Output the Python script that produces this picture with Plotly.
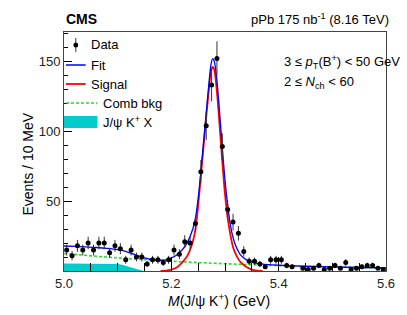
import numpy as np
import plotly.graph_objects as go

# ---- data (events per 10 MeV bin, 5.00-5.60 GeV) ----
bin_lo = 5.0
bin_width = 0.01
counts = [15, 11, 18, 15, 20, 15, 20, 20, 13, 18,
          16, 8, 15, 10, 10, 5, 8, 8, 6, 8,
          15, 12, 21, 20, 34, 71, 104, 133, 152, 89,
          44, 35, 27, 14, 7, 7, 5, 3, 8, 8,
          8, 4, 3, None, 2, 1, 2, 4, 1, 2,
          4, 2, 6, 1, 2, 3, 4, 4, 2, 1]

# ---- fit curves ----
fit_mass = [5.00, 5.02, 5.04, 5.06, 5.08, 5.10, 5.11, 5.12, 5.13, 5.14,
            5.15, 5.16, 5.17, 5.18, 5.19, 5.20, 5.21, 5.22, 5.23, 5.24,
            5.245, 5.25, 5.255, 5.26, 5.265, 5.27, 5.274, 5.277, 5.28, 5.285,
            5.29, 5.295, 5.30, 5.305, 5.31, 5.315, 5.32, 5.325, 5.33, 5.34,
            5.35, 5.36, 5.38, 5.40, 5.45, 5.50, 5.55, 5.60]
fit_vals = [17.9, 17.6, 17.2, 16.8, 16.2, 15.3, 14.5, 13.4, 12.0, 10.6,
            9.4, 8.4, 7.8, 7.7, 8.0, 9.4, 11.5, 15.0, 20.5, 30.0,
            38.0, 52.0, 71.0, 92.0, 113.0, 134.0, 148.0, 152.0, 150.0, 136.0,
            113.0, 88.0, 65.0, 47.0, 33.0, 24.0, 18.0, 14.0, 11.0, 8.0,
            6.5, 5.5, 4.6, 4.1, 3.4, 2.9, 2.5, 2.2]

sig_mass = [5.18, 5.19, 5.20, 5.21, 5.22, 5.23, 5.24, 5.245, 5.25, 5.255,
            5.26, 5.265, 5.27, 5.274, 5.277, 5.28, 5.285, 5.29, 5.295, 5.30,
            5.305, 5.31, 5.315, 5.32, 5.325, 5.33, 5.34, 5.35, 5.36, 5.37]
sig_vals = [0.0, 0.3, 1.0, 2.5, 6.0, 11.0, 21.0, 30.0, 47.0, 68.0,
            89.0, 110.0, 130.0, 143.0, 146.0, 144.0, 128.0, 104.0, 78.0, 55.0,
            38.0, 26.0, 17.0, 12.0, 8.5, 6.0, 2.8, 1.0, 0.3, 0.0]

comb_mass = [5.0, 5.1, 5.2, 5.3, 5.4, 5.5, 5.6]
comb_vals = [12.5, 9.4, 7.0, 5.2, 3.9, 2.9, 2.1]

jpsikx_mass = [5.00, 5.05, 5.09, 5.10, 5.11, 5.12, 5.13, 5.14, 5.148]
jpsikx_vals = [5.3, 5.3, 5.3, 5.0, 4.3, 3.3, 2.2, 0.9, 0.0]

# ---- styling ----
FONT = "Liberation Sans, Arial, Helvetica, sans-serif"
TEAL = "#00cccc"
BLUE = "#0000ff"
RED = "#ff0000"
GREEN = "#22dd22"

centers = bin_lo + bin_width * (np.arange(len(counts)) + 0.5)
cnt = np.array([np.nan if c is None else c for c in counts], dtype=float)
err = np.sqrt(cnt)

fig = go.Figure()
fig.add_trace(go.Scatter(x=jpsikx_mass, y=jpsikx_vals, mode="lines",
                         line=dict(width=0, color=TEAL), fill="tozeroy",
                         fillcolor=TEAL, showlegend=False, hoverinfo="skip"))
fig.add_trace(go.Scatter(x=comb_mass, y=comb_vals, mode="lines",
                         line=dict(color=GREEN, width=1.6, dash="3px,2px", shape="spline"),
                         showlegend=False))
fig.add_trace(go.Scatter(x=sig_mass, y=sig_vals, mode="lines",
                         line=dict(color=RED, width=1.8, shape="spline", smoothing=0.8),
                         showlegend=False))
fig.add_trace(go.Scatter(x=fit_mass, y=fit_vals, mode="lines",
                         line=dict(color=BLUE, width=1.3, shape="spline", smoothing=0.8),
                         showlegend=False))
fig.add_trace(go.Scatter(x=centers, y=cnt, mode="markers",
                         marker=dict(color="black", size=5, symbol="circle"),
                         error_y=dict(type="data", array=err, visible=True,
                                      color="#333333", thickness=1, width=0),
                         showlegend=False))

fig.update_layout(
    width=407, height=315,
    margin=dict(l=64, r=16, t=32, b=44),
    paper_bgcolor="white", plot_bgcolor="white",
    font=dict(family=FONT, size=13, color="black"),
    showlegend=False,
)
fig.update_xaxes(range=[5.0, 5.6], tickvals=[5.0, 5.2, 5.4, 5.6],
                 ticktext=["5.0", "5.2", "5.4", "5.6"],
                 ticks="inside", ticklen=14, tickcolor="black", tickwidth=1,
                 minor=dict(dtick=0.05, ticks="inside", ticklen=8, tickcolor="black"),
                 showline=True, linecolor="#444444", linewidth=1, mirror=True,
                 showgrid=False, zeroline=False, tickfont=dict(size=13, color="#222"))
fig.update_yaxes(range=[0, 171], tickvals=[50, 100, 150],
                 ticks="inside", ticklen=8, tickcolor="black", tickwidth=1,
                 minor=dict(dtick=10, ticks="inside", ticklen=4, tickcolor="black"),
                 showline=True, linecolor="#444444", linewidth=1, mirror=True,
                 showgrid=False, zeroline=False, tickfont=dict(size=13, color="#222"))

H = 239.0
W = 327.0
def px(x, y):
    return (x - 64) / W, (271 - y) / H

ann = []
def text(x, y, s, size=13, xanchor="left", **kw):
    xp, yp = px(x, y)
    ann.append(dict(x=xp, y=yp, xref="paper", yref="paper", text=s, showarrow=False,
                    xanchor=xanchor, yanchor="middle", font=dict(size=size, family=FONT, color="black"), **kw))

text(64, 19, "<b>CMS</b>", size=14)
text(396, 19, "pPb 175 nb<sup>-1</sup> (8.16 TeV)", size=13, xanchor="right")
text(285, 62, "3 ≤ <i>p</i><sub>T</sub>(B<sup>+</sup>) &lt; 50 GeV", size=13)
text(285, 82, "2 ≤ <i>N</i><sub>ch</sub> &lt; 60", size=13)
text(221, 300, "<i>M</i>(J/ψ K<sup>+</sup>) (GeV)", size=14, xanchor="center")
text(27, 164, "Events / 10 MeV", size=14, xanchor="center", textangle=-90)

# legend
text(89, 45, "Data")
text(89, 65, "Fit")
text(89, 84, "Signal")
text(102, 103, "Comb bkg")
text(102, 122, "J/ψ K<sup>+</sup> X")
fig.update_layout(annotations=ann)

shapes = []
def seg(x0, y0, x1, y1, color, width=1.5, dash="solid"):
    a, b = px(x0, y0); c, d = px(x1, y1)
    shapes.append(dict(type="line", xref="paper", yref="paper", x0=a, y0=b, x1=c, y1=d,
                       line=dict(color=color, width=width, dash=dash)))
seg(76, 38, 76, 52, "#333333", 1)
a, b = px(73.5, 42.5); c, d = px(78.5, 47.5)
shapes.append(dict(type="circle", xref="paper", yref="paper", x0=a, y0=b, x1=c, y1=d,
                   fillcolor="black", line=dict(color="black", width=0)))
seg(66, 65, 86, 65, BLUE, 1.5)
seg(66, 84, 86, 84, RED, 1.8)
seg(66, 103, 98, 103, GREEN, 1.6, "3px,2px")
a, b = px(64, 128); c, d = px(98, 116)
shapes.append(dict(type="rect", xref="paper", yref="paper", x0=a, y0=b, x1=c, y1=d,
                   fillcolor=TEAL, line=dict(width=0)))
fig.update_layout(shapes=shapes)

fig.write_html("out.html", config={"displayModeBar": False},
               post_script="document.body.style.margin='0';document.body.style.padding='0';")
